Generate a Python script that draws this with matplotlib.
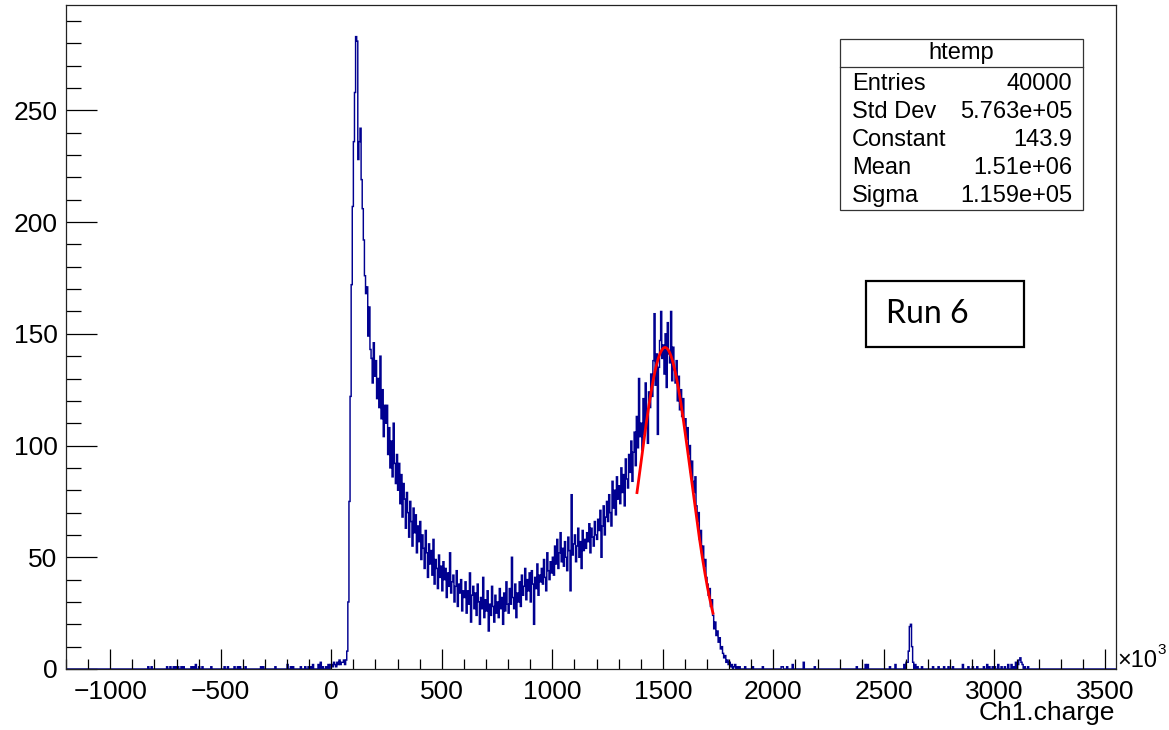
"""ROOT-style Ch1.charge histogram (Run 6) with gaussian fit and stats box."""
import numpy as np
import matplotlib
matplotlib.use("Agg")
import matplotlib.pyplot as plt
from matplotlib import font_manager
from matplotlib.ticker import MultipleLocator
from matplotlib.patches import Rectangle


def pick(*names):
    have = {f.name for f in font_manager.fontManager.ttflist}
    for n in names:
        if n in have:
            return n
    return "DejaVu Sans"


NARROW = pick("Liberation Sans Narrow", "Liberation Sans")
RUNF = pick("Lato", "Open Sans")

# ---- data (x in units of 1e3) ----
x_lo, x_hi, bin_w = -1200, 3550, 5
dense_start = 0
dense_counts = [
    2, 1, 3, 2, 1, 3, 2, 4, 2, 3,
    3, 4, 2, 4, 8, 30, 75, 122, 172, 207,
    236, 258, 283, 281, 228, 236, 242, 219, 206, 192,
    176, 168, 171, 149, 162, 143, 139, 128, 146, 131,
    138, 121, 130, 117, 140, 112, 125, 104, 118, 110,
    118, 96, 108, 90, 102, 86, 110, 92, 83, 96,
    80, 92, 74, 87, 68, 83, 76, 63, 79, 70,
    59, 75, 66, 55, 72, 61, 69, 52, 64, 57,
    66, 49, 60, 54, 45, 62, 52, 41, 56, 47,
    53, 42, 58, 38, 49, 45, 36, 51, 41, 46,
    35, 48, 40, 45, 32, 43, 37, 52, 34, 39,
    42, 30, 37, 44, 28, 38, 34, 40, 26, 35,
    32, 39, 25, 35, 29, 43, 21, 33, 37, 27,
    34, 24, 38, 30, 20, 32, 27, 41, 23, 31,
    26, 35, 17, 29, 24, 37, 28, 21, 33, 25,
    30, 23, 36, 27, 32, 20, 34, 26, 39, 29,
    25, 36, 29, 50, 32, 27, 38, 23, 34, 30,
    39, 28, 42, 33, 37, 45, 31, 40, 35, 43,
    30, 44, 38, 20, 41, 36, 47, 33, 42, 39,
    45, 38, 49, 41, 35, 52, 44, 40, 48, 43,
    50, 42, 55, 47, 58, 45, 52, 61, 48, 54,
    46, 57, 50, 44, 59, 53, 35, 78, 51, 56,
    60, 48, 55, 63, 50, 57, 45, 62, 53, 58,
    54, 61, 57, 65, 52, 63, 59, 55, 66, 60,
    58, 67, 62, 71, 50, 64, 73, 60, 68, 75,
    66, 78, 70, 64, 84, 72, 80, 69, 86, 76,
    82, 74, 90, 79, 87, 73, 94, 85, 81, 96,
    88, 102, 84, 97, 106, 91, 113, 99, 130, 104,
    110, 98, 121, 105, 128, 112, 101, 124, 117, 132,
    122, 138, 159, 127, 141, 105, 135, 147, 160, 139,
    145, 132, 150, 126, 155, 141, 137, 160, 129, 144,
    134, 128, 138, 120, 131, 116, 125, 113, 121, 109,
    112, 103, 108, 96, 100, 88, 93, 84, 79, 86,
    73, 66, 70, 58, 62, 52, 55, 46, 49, 41,
    38, 33, 36, 28, 31, 24, 18, 21, 15, 17,
    12, 14, 9, 10, 7, 5, 6, 3, 4, 2,
    3, 1, 2, 0, 1, 2, 0, 1, 0, 1,
]
sparse_x = [-828, -815, -741, -728, -715, -705, -695, -680, -668, -635,
            -625, -612, -598, -585, -543, -485, -470, -440, -425, -412,
            -386, -320, -308, -252, -198, -185, -175, -138, -120, -105,
            -95, -82, -60, -50, -40, -25, -15, -5,
            1870, 1905, 1950, 2035, 2040, 2060, 2085, 2138, 2188, 2378,
            2415, 2425, 2527, 2550, 2590, 2600, 2605, 2610, 2615, 2620,
            2625, 2630, 2640, 2650, 2670, 2720, 2745, 2770, 2790, 2810,
            2855, 2880, 2900, 2920, 2950, 2965, 2975, 2990, 3000, 3015,
            3030, 3045, 3060, 3075, 3085, 3095, 3105, 3110, 3115, 3120,
            3125, 3135, 3150]
sparse_n = [1, 1, 1, 1, 1, 1, 1, 1, 1, 1,
            1, 2, 1, 1, 1, 1, 1, 1, 1, 1,
            1, 1, 1, 1, 2, 1, 1, 1, 1, 1,
            1, 2, 2, 3, 1, 1, 2, 2,
            1, 1, 1, 1, 1, 1, 2, 3, 1, 1,
            2, 2, 1, 2, 2, 3, 3, 8, 19, 20,
            10, 3, 2, 1, 1, 1, 1, 1, 1, 1,
            2, 1, 1, 1, 1, 2, 1, 1, 1, 2,
            1, 1, 2, 2, 1, 3, 2, 4, 5, 3,
            2, 1, 1]

fit_const, fit_mean, fit_sigma = 143.9, 1510.0, 115.9
fit_lo, fit_hi = 1383, 1727

stat_names = ["Entries", "Std Dev", "Constant", "Mean", "Sigma"]
stat_vals = ["40000", "5.763e+05", "143.9", "1.51e+06", "1.159e+05"]

# ---- build histogram ----
edges = np.arange(x_lo, x_hi + bin_w, bin_w)
counts = np.zeros(len(edges) - 1)
i0 = (dense_start - x_lo) // bin_w
counts[i0:i0 + len(dense_counts)] = dense_counts
for xv, nv in zip(sparse_x, sparse_n):
    counts[int((xv - x_lo) // bin_w)] += nv

W, H = 1169, 730
fig = plt.figure(figsize=(W / 100, H / 100), dpi=100)


def fx(px):
    return px / W


def fy(py):
    return 1 - py / H


ax = fig.add_axes([fx(66), fy(669), fx(1116) - fx(66), fy(5) - fy(669)])
ax.stairs(counts, edges, color="#000090", lw=1.05)

xf = np.linspace(fit_lo, fit_hi, 200)
ax.plot(xf, fit_const * np.exp(-0.5 * ((xf - fit_mean) / fit_sigma) ** 2),
        color="#ff0000", lw=2)

ax.set_xlim(x_lo, x_hi)
ax.set_ylim(0, 1.05 * max(counts))
ax.set_xticks(np.arange(-1000, 3501, 500))
ax.set_yticks(np.arange(0, 251, 50))
ax.xaxis.set_minor_locator(MultipleLocator(100))
ax.yaxis.set_minor_locator(MultipleLocator(10))
ax.tick_params(axis="y", which="major", direction="in", length=22.3, width=0.9, pad=6)
ax.tick_params(axis="y", which="minor", direction="in", length=10.8, width=0.9)
ax.tick_params(axis="x", which="major", direction="in", length=14.4, width=0.9, pad=8)
ax.tick_params(axis="x", which="minor", direction="in", length=7.2, width=0.9)
ax.tick_params(top=False, right=False, which="both", labelsize=19)
for lab in ax.get_xticklabels() + ax.get_yticklabels():
    lab.set_fontfamily(NARROW)
for s in ax.spines.values():
    s.set_linewidth(0.9)
    s.set_color("#222222")

# axis decorations
fig.text(fx(1117), fy(661), "×10", fontsize=17, family=NARROW, va="center", ha="left")
fig.text(fx(1157), fy(650), "3", fontsize=11, family=NARROW, va="center", ha="left")
fig.text(fx(1115), fy(713), "Ch1.charge", fontsize=19, family=NARROW, va="center", ha="right")

# stats box
fig.patches.append(Rectangle((fx(840), fy(210)), fx(1083) - fx(840), fy(39) - fy(210),
                             transform=fig.transFigure, facecolor="white",
                             edgecolor="#333333", lw=0.9, zorder=5))
fig.lines.append(plt.Line2D([fx(840), fx(1083)], [fy(67), fy(67)],
                            transform=fig.transFigure, color="#333333", lw=0.9, zorder=6))
fig.text(fx(961), fy(53), "htemp", fontsize=17, family=NARROW, ha="center", va="center", zorder=7)
for k, (nm, vl) in enumerate(zip(stat_names, stat_vals)):
    yy = 84 + 28 * k
    fig.text(fx(852), fy(yy), nm, fontsize=17, family=NARROW, ha="left", va="center", zorder=7)
    fig.text(fx(1072), fy(yy), vl, fontsize=17, family=NARROW, ha="right", va="center", zorder=7)

# run label
fig.patches.append(Rectangle((fx(866), fy(347)), fx(1024) - fx(866), fy(281) - fy(347),
                             transform=fig.transFigure, facecolor="white",
                             edgecolor="black", lw=1.6, zorder=5))
fig.text(fx(886), fy(314), "Run 6", fontsize=23, family=RUNF, ha="left", va="center", zorder=7)

fig.savefig("out.png", dpi=100)
